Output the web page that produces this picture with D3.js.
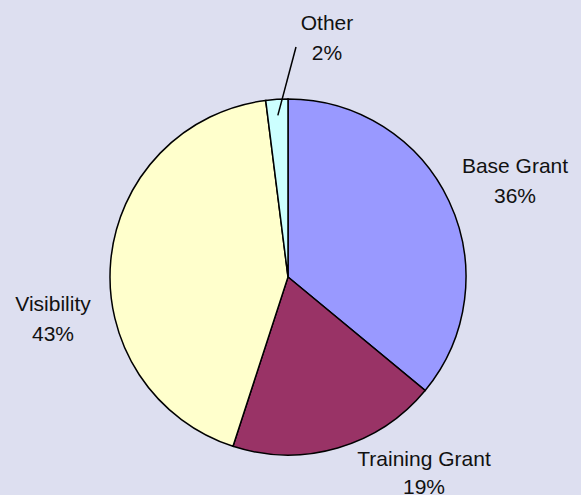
<!DOCTYPE html>
<html>
<head>
<meta charset="utf-8">
<script src="https://cdn.jsdelivr.net/npm/d3@7"></script>
<style>
  html, body { margin: 0; padding: 0; background: #dddff0; }
  svg { display: block; }
  text { font-family: "Liberation Sans", Arial, sans-serif; font-size: 21px; fill: #111; }
</style>
</head>
<body>
<svg id="chart"></svg>
<script>
const labels = ['Base Grant', 'Training Grant', 'Visibility', 'Other'];
const values = [36, 19, 43, 2];
const colors = ['#9999ff', '#993366', '#ffffcc', '#ccffff'];
// baseline of the first label line, centred on x
const labelPos = [[515, 173], [424, 466], [53, 311], [327, 30]];
const lineGap = [30, 28, 30, 30];

const W = 581, H = 495;
const cx = 288, cy = 277, R = 178;

const svg = d3.select('#chart').attr('width', W).attr('height', H);

const pie = d3.pie().sort(null).value(d => d)(values);
const arc = d3.arc().innerRadius(0).outerRadius(R);

const g = svg.append('g').attr('transform', `translate(${cx},${cy})`);
g.selectAll('path')
  .data(pie)
  .enter()
  .append('path')
  .attr('d', arc)
  .attr('fill', (d, i) => colors[i])
  .attr('stroke', '#000')
  .attr('stroke-width', 1.5);

// leader line for the small slice
const other = pie[3];
const mid = (other.startAngle + other.endAngle) / 2;
const inner = R * 0.91;
svg.append('line')
  .attr('x1', cx + inner * Math.sin(mid))
  .attr('y1', cy - inner * Math.cos(mid))
  .attr('x2', 296)
  .attr('y2', 47)
  .attr('stroke', '#000')
  .attr('stroke-width', 1.5);

labels.forEach(function(name, i) {
  let [x, y] = labelPos[i];
  let t = svg.append('text').attr('text-anchor', 'middle');
  t.append('tspan').attr('x', x).attr('y', y).text(name);
  t.append('tspan').attr('x', x).attr('y', y + lineGap[i]).text(values[i] + '%');
});
</script>
</body>
</html>
